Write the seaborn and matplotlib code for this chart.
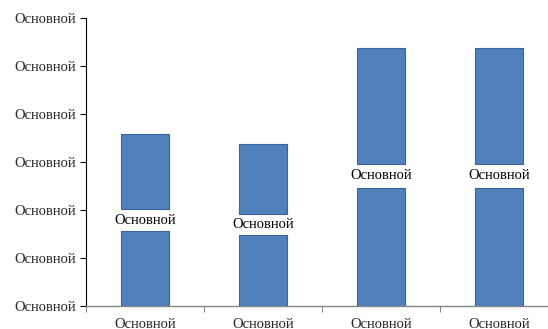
import matplotlib
matplotlib.use("Agg")
import matplotlib.pyplot as plt
import seaborn as sns
import pandas as pd

# Data: each column is split into a lower block, a labelled gap and an upper block
categories = ["Основной 1", "Основной 2", "Основной 3", "Основной 4"]
category_labels = ["Основной", "Основной", "Основной", "Основной"]
lower_values = [1.56, 1.48, 2.46, 2.46]
gap_values = [0.46, 0.44, 0.50, 0.50]
upper_values = [1.57, 1.46, 2.42, 2.42]
gap_labels = ["Основной", "Основной", "Основной", "Основной"]
y_ticks = [0, 1, 2, 3, 4, 5, 6]
y_tick_labels = ["Основной"] * 7

sns.set_style("white")
plt.rcParams["font.family"] = ["Liberation Serif", "DejaVu Serif"]

df = pd.DataFrame({
    "category": categories,
    "lower": lower_values,
    "gap": gap_values,
    "upper": upper_values,
})
df["upper_base"] = df["lower"] + df["gap"]

fig = plt.figure(figsize=(5.48, 3.29), dpi=100)
ax = fig.add_axes([86 / 548, 23 / 329, 472 / 548, 288 / 329])

bar_color = "#4F81BD"
edge_color = "#3A6396"

sns.barplot(data=df, x="category", y="lower", color=bar_color, saturation=1,
            width=0.4, edgecolor=edge_color, linewidth=0.8, ax=ax)
sns.barplot(data=df, x="category", y="upper", bottom=df["upper_base"].to_numpy(),
            color=bar_color, saturation=1, width=0.4, edgecolor=edge_color,
            linewidth=0.8, ax=ax)

text_size = 10.5
for i, (lo, gp, lab) in enumerate(zip(lower_values, gap_values, gap_labels)):
    ax.text(i, lo + gp / 2, lab, ha="center", va="center", fontsize=text_size,
            color="black")

ax.set_xlim(-0.5, 3.5)
ax.set_ylim(0, 6)
ax.set_xlabel("")
ax.set_ylabel("")

ax.set_yticks(y_ticks)
ax.set_yticklabels(y_tick_labels, fontsize=text_size)
ax.set_xticks(range(len(categories)))
ax.set_xticklabels(category_labels, fontsize=text_size)
ax.set_xticks([-0.5, 0.5, 1.5, 2.5, 3.5], minor=True)

ax.tick_params(axis="y", which="major", direction="out", length=4.5, width=0.8,
               color="black", pad=3, left=True)
ax.tick_params(axis="x", which="major", length=0, pad=9)
ax.tick_params(axis="x", which="minor", direction="out", length=4, width=0.8,
               color="#868686", bottom=True)

for side in ["top", "right"]:
    ax.spines[side].set_visible(False)
ax.spines["left"].set_color("black")
ax.spines["left"].set_linewidth(0.8)
ax.spines["bottom"].set_color("#868686")
ax.spines["bottom"].set_linewidth(1.0)

fig.savefig("out.png", dpi=100)
